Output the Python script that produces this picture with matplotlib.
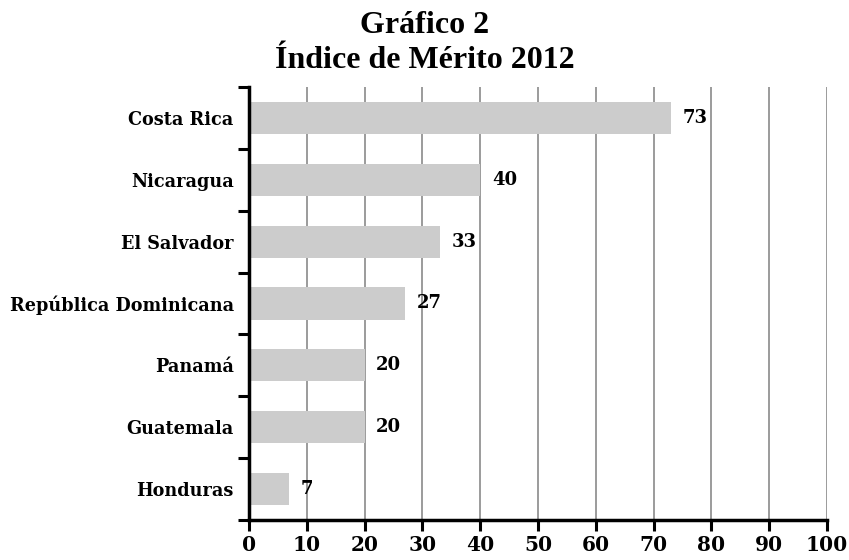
import numpy as np
import matplotlib
matplotlib.use("Agg")
from matplotlib import pyplot as plt

# Data
countries = ['Costa Rica', 'Nicaragua', 'El Salvador', 'República Dominicana',
             'Panamá', 'Guatemala', 'Honduras']
values = [73, 40, 33, 27, 20, 20, 7]
xticks = [0, 10, 20, 30, 40, 50, 60, 70, 80, 90, 100]
title_lines = ['Gráfico 2', 'Índice de Mérito 2012']

plt.rcParams['font.family'] = ['DejaVu Serif']
plt.rcParams['font.weight'] = 'bold'

fig = plt.figure(figsize=(8.49, 5.60), dpi=100)
ax = fig.add_axes([249/849, 1 - 520/560, (827 - 249)/849, (520 - 87)/560])

y = np.arange(len(countries))
ax.barh(y, values, height=0.52, color='#cccccc', zorder=2)
for yi, v in zip(y, values):
    ax.text(v + 2.0, yi, str(v), va='center', ha='left', fontsize=13,
            fontweight='bold', zorder=3)

ax.set_xlim(0, 100)
ax.set_ylim(len(countries) - 0.5, -0.5)
ax.set_xticks(xticks)
ax.set_xticklabels([str(t) for t in xticks], fontsize=14.5, fontweight='bold')
ax.xaxis.grid(True, color='#808080', linewidth=1.1, zorder=1)
ax.set_axisbelow(True)

# category labels sit between the boundary ticks
ax.set_yticks(np.arange(-0.5, len(countries), 1.0))
ax.set_yticklabels([])
ax.set_yticks(y, minor=True)
ax.set_yticklabels(countries, minor=True, fontsize=12.7, fontweight='bold')
ax.tick_params(axis='y', which='minor', length=0, pad=11)
ax.tick_params(axis='y', which='major', length=8, width=2.2, direction='out')
ax.tick_params(axis='x', length=8, width=2.2, pad=3)

for s in ['top', 'right']:
    ax.spines[s].set_visible(False)
for s in ['left', 'bottom']:
    ax.spines[s].set_linewidth(2.5)

# two-line title, Times-like bold
fig.text(0.5, 1 - 33/560, title_lines[0], ha='center', va='baseline',
         fontsize=23, fontweight='bold', family='Liberation Serif')
fig.text(0.5, 1 - 68/560, title_lines[1], ha='center', va='baseline',
         fontsize=23, fontweight='bold', family='Liberation Serif')

fig.savefig('out.png', dpi=100)
